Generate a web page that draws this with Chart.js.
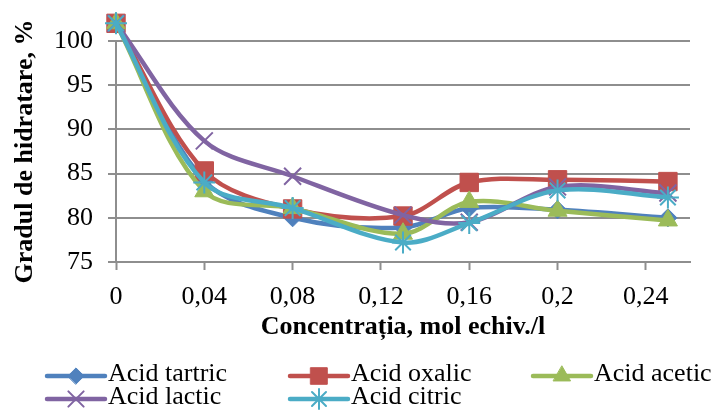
<!DOCTYPE html>
<html>
<head>
<meta charset="utf-8">
<title>Gradul de hidratare</title>
<script src="https://cdn.jsdelivr.net/npm/chart.js@4/dist/chart.umd.min.js"></script>
<style>
  html, body { margin: 0; padding: 0; background: #fff; }
  #wrap { width: 714px; height: 410px; }
</style>
</head>
<body>
<div id="wrap"><canvas id="chartHidratare" width="714" height="410"></canvas></div>
<script>
// concentratia (mol echiv./l) si gradul de hidratare (%) pentru fiecare acid
const concentratii = [0, 0.04, 0.08, 0.13, 0.16, 0.2, 0.25];
const acidTartric = [102, 84.2, 80.0, 78.9, 81.1, 80.9, 80.0];
const acidOxalic  = [102, 85.3, 81.0, 80.2, 84.0, 84.3, 84.1];
const acidAcetic  = [102, 83.0, 81.1, 78.2, 81.8, 80.8, 79.7];
const acidLactic  = [102, 88.7, 84.7, 80.3, 79.5, 83.5, 82.8];
const acidCitric  = [102, 84.0, 81.1, 77.2, 79.4, 83.1, 82.3];

const xTicks = [0, 0.04, 0.08, 0.12, 0.16, 0.2, 0.24];
const yTicks = [75, 80, 85, 90, 95, 100];

const serii = [
  { nume: 'Acid tartric', valori: acidTartric, culoare: '#4F81BD', punct: 'rectRot',  raza: 9 },
  { nume: 'Acid oxalic',  valori: acidOxalic,  culoare: '#C0504D', punct: 'rect',     raza: 13 },
  { nume: 'Acid acetic',  valori: acidAcetic,  culoare: '#9BBB59', punct: 'triangle', raza: 11 },
  { nume: 'Acid lactic',  valori: acidLactic,  culoare: '#8064A2', punct: 'crossRot', raza: 12 },
  { nume: 'Acid citric',  valori: acidCitric,  culoare: '#4BACC6', punct: 'star',     raza: 11 }
];

const FONT = '"Liberation Serif", "Times New Roman", serif';
const GRI = '#8e8e8e';

// legenda pe doua randuri, trei coloane
const legendaPoz = [[47, 376], [290, 376], [533, 376], [47, 399], [290, 399]];
const legendaPlugin = {
  id: 'legendaExcel',
  afterDraw(chart) {
    const ctx = chart.ctx;
    ctx.save();
    serii.forEach((s, i) => {
      const [x, y] = legendaPoz[i];
      ctx.strokeStyle = s.culoare;
      ctx.fillStyle = s.culoare;
      ctx.lineWidth = 4.5;
      ctx.lineCap = 'round';
      ctx.beginPath();
      ctx.moveTo(x, y);
      ctx.lineTo(x + 58, y);
      ctx.stroke();
      ctx.lineWidth = (s.punct === 'crossRot' || s.punct === 'star') ? 2 : 1;
      Chart.helpers.drawPoint(ctx, { pointStyle: s.punct, radius: s.raza * 0.9, rotation: 0, borderWidth: ctx.lineWidth }, x + 29, y);
      ctx.fillStyle = '#000';
      ctx.font = '26px ' + FONT;
      ctx.textBaseline = 'middle';
      ctx.textAlign = 'left';
      ctx.fillText(s.nume, x + 61, y - 2);
    });
    ctx.restore();
  }
};

new Chart(document.getElementById('chartHidratare').getContext('2d'), {
  type: 'line',
  data: {
    datasets: serii.map((s, i) => ({
      label: s.nume,
      data: concentratii.map((c, k) => ({ x: c, y: s.valori[k] })),
      borderColor: s.culoare,
      backgroundColor: s.culoare,
      borderWidth: 4.5,
      tension: 0.33,
      pointStyle: s.punct,
      pointRadius: s.raza,
      // raza de hover mare ca punctele de la 102 (peste axa) sa fie desenate
      pointHoverRadius: 22,
      pointBorderWidth: (s.punct === 'crossRot' || s.punct === 'star') ? 2 : 1,
      pointBorderColor: s.culoare,
      pointBackgroundColor: s.culoare,
      clip: false,
      order: serii.length - i
    }))
  },
  options: {
    responsive: false,
    animation: false,
    events: [],
    layout: { padding: { top: 41, right: 16, bottom: 67, left: 0 } },
    elements: { line: { capBezierPoints: false } },
    plugins: {
      legend: { display: false },
      tooltip: { enabled: false }
    },
    scales: {
      x: {
        type: 'linear',
        min: 0,
        max: 0.26,
        afterBuildTicks: scale => { scale.ticks = xTicks.map(v => ({ value: v })); },
        afterFit: scale => { scale.height = 81; },
        border: { display: true, color: GRI, width: 2 },
        grid: { drawOnChartArea: false, drawTicks: true, tickLength: 8, tickColor: GRI, tickWidth: 2 },
        ticks: {
          color: '#000',
          padding: 12,
          maxRotation: 0,
          font: { family: FONT, size: 26 },
          callback: v => String(+v.toFixed(2)).replace('.', ',')
        },
        title: {
          display: true,
          text: 'Concentrația, mol echiv./l',
          color: '#000',
          padding: { top: 0, bottom: 0 },
          font: { family: FONT, size: 26, weight: 'bold' }
        }
      },
      y: {
        min: 75,
        max: 100,
        afterBuildTicks: scale => { scale.ticks = yTicks.map(v => ({ value: v })); },
        afterFit: scale => { scale.width = 116; },
        border: { display: true, color: GRI, width: 2 },
        grid: { color: GRI, lineWidth: 2, drawTicks: true, tickLength: 8, tickColor: GRI },
        ticks: {
          color: '#000',
          padding: 15,
          font: { family: FONT, size: 26 }
        },
        title: {
          display: true,
          text: 'Gradul de hidratare, %',
          color: '#000',
          padding: { top: 10, bottom: 0 },
          font: { family: FONT, size: 26, weight: 'bold' }
        }
      }
    }
  },
  plugins: [legendaPlugin]
});
</script>
</body>
</html>
